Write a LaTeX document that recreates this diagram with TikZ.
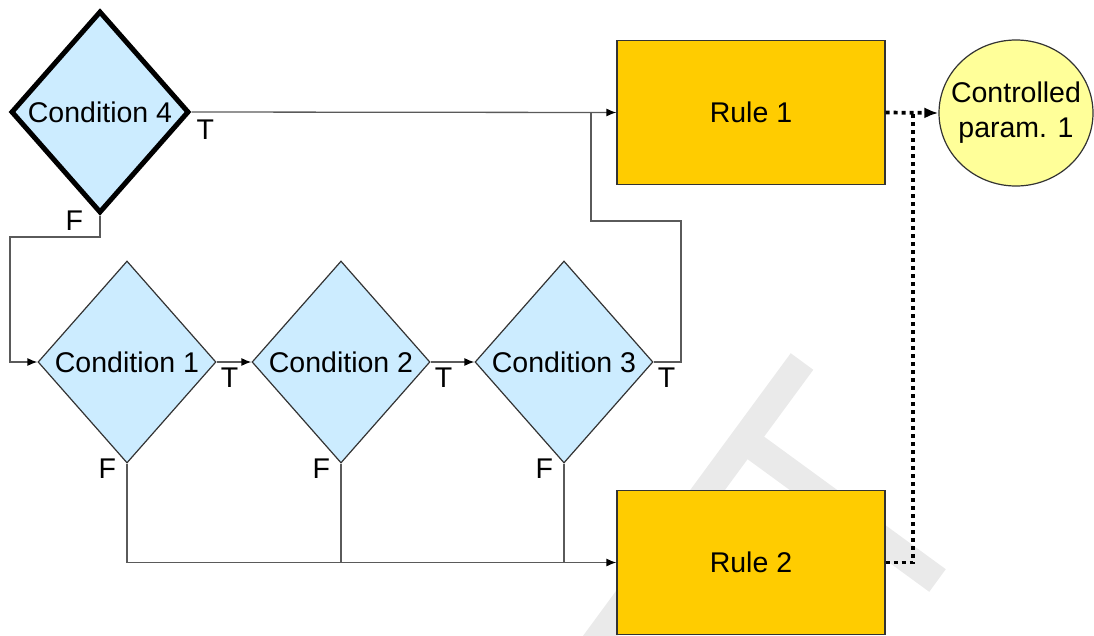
\documentclass[tikz,border=0pt]{standalone}
\usepackage{fontspec}
\setmainfont{Liberation Sans}
\usetikzlibrary{shapes.geometric,arrows.meta}
\definecolor{condfill}{HTML}{CCECFF}
\definecolor{rulefill}{HTML}{FFCC00}
\definecolor{paramfill}{HTML}{FFFF99}
\definecolor{wirecol}{HTML}{5A5A5A}
\definecolor{edgecol}{HTML}{333333}
\definecolor{markcol}{HTML}{EAEAEA}
\begin{document}
\begin{tikzpicture}[x=1pt,y=-1pt,
  every node/.style={font=\fontsize{28.5}{35}\selectfont},
  cond/.style={shape=diamond, draw=edgecol, line width=1.2pt, fill=condfill,
    minimum width=178pt, minimum height=202pt, inner sep=0pt},
  keycond/.style={cond, draw=black, line width=5pt},
  rulebox/.style={rectangle, draw=edgecol, line width=1.2pt, fill=rulefill,
    minimum width=268pt, minimum height=144pt, inner sep=0pt},
  param/.style={ellipse, draw=edgecol, line width=1.2pt, fill=paramfill,
    minimum width=154pt, minimum height=146pt, inner xsep=-20pt, inner ysep=0pt,
    align=center},
  wire/.style={draw=wirecol, line width=1.3pt},
  flow/.style={wire, -{Latex[length=10pt,width=8pt,color=black]}},
  dotwire/.style={draw=black, line width=3.7pt, dash pattern=on 4pt off 4pt},
  dotflow/.style={dotwire, -{Latex[length=14pt,width=11pt]}},
  tlabel/.style={anchor=base west, inner sep=0pt},
  flabel/.style={anchor=base east, inner sep=0pt},
  markstroke/.style={draw=markcol, line width=28pt}
]
\useasboundingbox (0,0) rectangle (1094,635);

% light background mark
\begin{scope}
  \clip (0,0) rectangle (1094,635);
  \coordinate (mtop) at (802,361.5);
  \coordinate (mbot) at (590,650);
  \coordinate (mjoin) at (745,440);
  \coordinate (mend) at (937.5,580.5);
  \draw[markstroke] (mtop) -- (mbot);
  \draw[markstroke] (mjoin) -- (mend);
\end{scope}

% decisions
\node[keycond] (c4) at (100,112) {Condition 4};
\node[cond] (c1) at (127,362) {Condition 1};
\node[cond] (c2) at (341,362) {Condition 2};
\node[cond] (c3) at (564,362) {Condition 3};

% rules and output
\node[rulebox] (r1) at (751,112.5) {Rule 1};
\node[rulebox] (r2) at (751,562.5) {Rule 2};
\node[param] (p1) at (1016,113) {Controlled\\param. 1};

% routing points
\coordinate (loopL) at (10,237);
\coordinate (backR) at (681,221);
\coordinate (backL) at (591,221);
\coordinate (join1) at (591,112);
\coordinate (join2) at (913,112);

% true branches
\draw[flow] (c4.east) -- (r1.west);
\draw[flow] (c1.east) -- (c2.west);
\draw[flow] (c2.east) -- (c3.west);
\draw[wire] (c3.east) -| (backR) -- (backL) -- (join1);

% false branches
\draw[flow] (c4.south) |- (loopL) |- (c1.west);
\draw[flow] (c1.south) |- (r2.west);
\draw[wire] (c2.south) -- (c2.south |- r2.west);
\draw[wire] (c3.south) -- (c3.south |- r2.west);

% rule outputs
\draw[dotflow] (r1.east) -- (p1.west);
\draw[dotwire] (r2.east) -| (join2);

% branch labels
\node[tlabel] (t4) at ([shift={(5,27)}]c4.east) {T};
\node[tlabel] (t1) at ([shift={(4,25)}]c1.east) {T};
\node[tlabel] (t2) at ([shift={(4,25)}]c2.east) {T};
\node[tlabel] (t3) at ([shift={(4,25)}]c3.east) {T};
\node[flabel] (f4) at ([shift={(-16.7,14.5)}]c4.south) {F};
\node[flabel] (f1) at ([shift={(-10.7,15)}]c1.south) {F};
\node[flabel] (f2) at ([shift={(-10.7,15)}]c2.south) {F};
\node[flabel] (f3) at ([shift={(-10.7,15)}]c3.south) {F};
\end{tikzpicture}
\end{document}
